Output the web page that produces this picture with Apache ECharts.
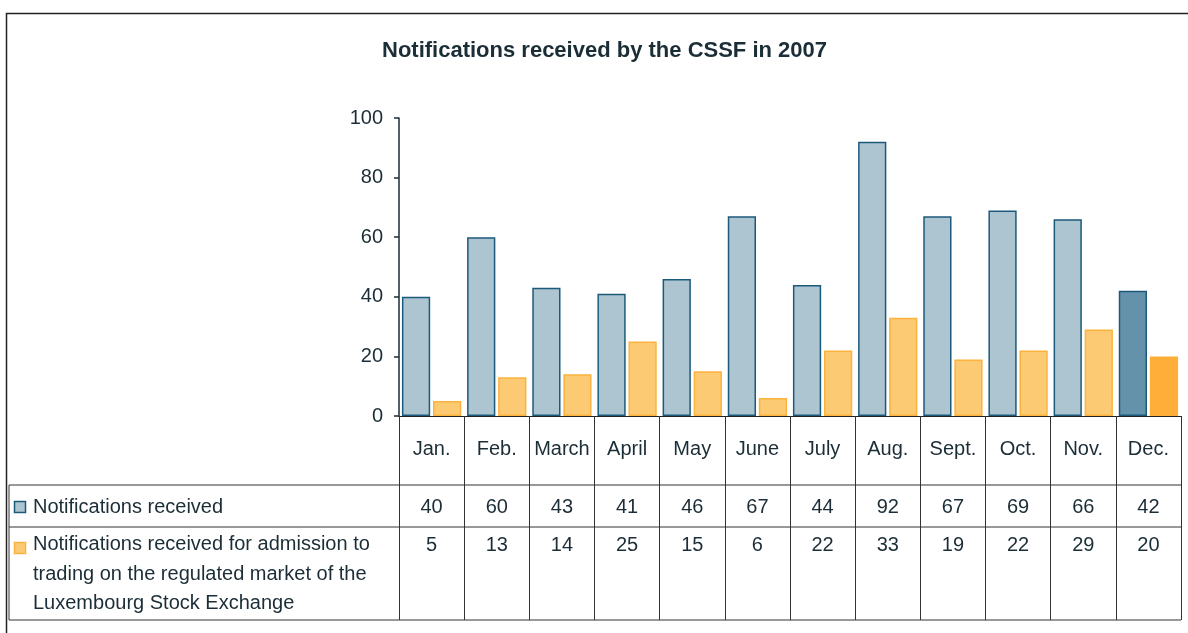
<!DOCTYPE html>
<html>
<head>
<meta charset="utf-8">
<script src="https://cdn.jsdelivr.net/npm/echarts@6/dist/echarts.min.js"></script>
<style>
html, body { margin: 0; padding: 0; background: #fff; }
#chart { width: 1188px; height: 633px; }
</style>
</head>
<body>
<div id="chart"></div>
<script>
var months = ['Jan.', 'Feb.', 'March', 'April', 'May', 'June', 'July', 'Aug.', 'Sept.', 'Oct.', 'Nov.', 'Dec.'];
var received = [40, 60, 43, 41, 46, 67, 44, 92, 67, 69, 66, 42];
var admission = [5, 13, 14, 25, 15, 6, 22, 33, 19, 22, 29, 20];
var seriesNames = ['Notifications received', 'Notifications received for admission to\ntrading on the regulated market of the\nLuxembourg Stock Exchange'];
var yMin = 0, yMax = 100, yStep = 20;

var font = '"Liberation Sans", Arial, sans-serif';
var ink = '#1b2d36';
var fs = 20;
var gridLeft = 399, gridRight = 1181, axisY = 416;
var rowTop1 = 485, rowTop2 = 527, tableBottom = 620, tableLeft = 9;

// last month is drawn in a darker shade
function marks(values, lastStyle) {
	return values.map(function(v, i) {
		return i === values.length - 1 ? { value: v, itemStyle: lastStyle } : v;
	});
}

function rowAxis(values, gap) {
	return {
		type: 'category',
		data: values.map(String),
		position: 'bottom',
		offset: 0,
		axisLine: { show: false },
		axisTick: { show: false },
		axisLabel: { margin: gap, fontSize: fs, color: ink, fontFamily: font, interval: 0, verticalAlign: 'top' }
	};
}

var myChart = echarts.init(document.getElementById('chart'));
var option = {
	animation: false,
	title: {
		text: 'Notifications received by the CSSF in 2007',
		left: 377,
		top: 35,
		textStyle: { fontSize: 22, fontWeight: 'bold', color: ink, fontFamily: font }
	},
	grid: { left: gridLeft, right: 1188 - gridRight, top: 118, bottom: 633 - axisY, containLabel: false },
	xAxis: [{
		type: 'category',
		data: months,
		axisLine: { show: true, lineStyle: { color: '#222', width: 1 } },
		axisTick: { show: true, alignWithLabel: false, length: tableBottom - axisY, lineStyle: { color: '#333', width: 1 } },
		axisLabel: { margin: 23, fontSize: fs, color: ink, fontFamily: font, interval: 0, verticalAlign: 'top' }
	}, rowAxis(received, 81), rowAxis(admission, 119)],
	yAxis: {
		type: 'value',
		min: yMin,
		max: yMax,
		interval: yStep,
		splitLine: { show: false },
		axisLine: { show: true, lineStyle: { color: '#1b2d36', width: 1.5 } },
		axisTick: { show: true, length: 5, lineStyle: { color: '#1b2d36', width: 1.5 } },
		axisLabel: { margin: 16, fontSize: fs, color: ink, fontFamily: font }
	},
	series: [{
		name: seriesNames[0],
		type: 'bar',
		xAxisIndex: 0,
		barGap: '10%',
		barCategoryGap: '9%',
		itemStyle: { color: '#adc4d1', borderColor: '#1c5a7b', borderWidth: 1.5 },
		data: marks(received, { color: '#6592ab', borderColor: '#1c5a7b', borderWidth: 1.5 })
	}, {
		name: seriesNames[1],
		type: 'bar',
		xAxisIndex: 0,
		itemStyle: { color: '#fdca74', borderColor: '#fbb33e', borderWidth: 1.5 },
		data: marks(admission, { color: '#ffae3a', borderColor: '#ffae3a', borderWidth: 1.5 })
	}],
	graphic: [
		// outer frame
		{ type: 'polyline', shape: { points: [[6.5, 633], [6.5, 13.5], [1188, 13.5]] }, style: { stroke: '#222', lineWidth: 1.5, fill: null } },
		// data table lines
		{ type: 'line', shape: { x1: tableLeft, y1: rowTop1, x2: gridRight, y2: rowTop1 }, style: { stroke: '#333', lineWidth: 1 } },
		{ type: 'line', shape: { x1: tableLeft, y1: rowTop2, x2: gridRight, y2: rowTop2 }, style: { stroke: '#333', lineWidth: 1 } },
		{ type: 'line', shape: { x1: tableLeft, y1: tableBottom, x2: gridRight, y2: tableBottom }, style: { stroke: '#333', lineWidth: 1 } },
		{ type: 'line', shape: { x1: tableLeft, y1: rowTop1, x2: tableLeft, y2: tableBottom }, style: { stroke: '#333', lineWidth: 1 } },
		// row keys
		{ type: 'rect', shape: { x: 14.5, y: 501.5, width: 11, height: 11 }, style: { fill: '#adc4d1', stroke: '#1c5a7b', lineWidth: 1.5 } },
		{ type: 'text', x: 33, y: 507, style: { text: seriesNames[0], fill: ink, font: fs + 'px ' + font, verticalAlign: 'middle' } },
		{ type: 'rect', shape: { x: 14.5, y: 542.5, width: 11, height: 11 }, style: { fill: '#fdca74', stroke: '#fbb33e', lineWidth: 1.5 } },
		{ type: 'text', x: 33, y: 530, style: { text: seriesNames[1], fill: ink, font: fs + 'px ' + font, lineHeight: 29.5, verticalAlign: 'top' } }
	]
};

myChart.setOption(option);
</script>
</body>
</html>
